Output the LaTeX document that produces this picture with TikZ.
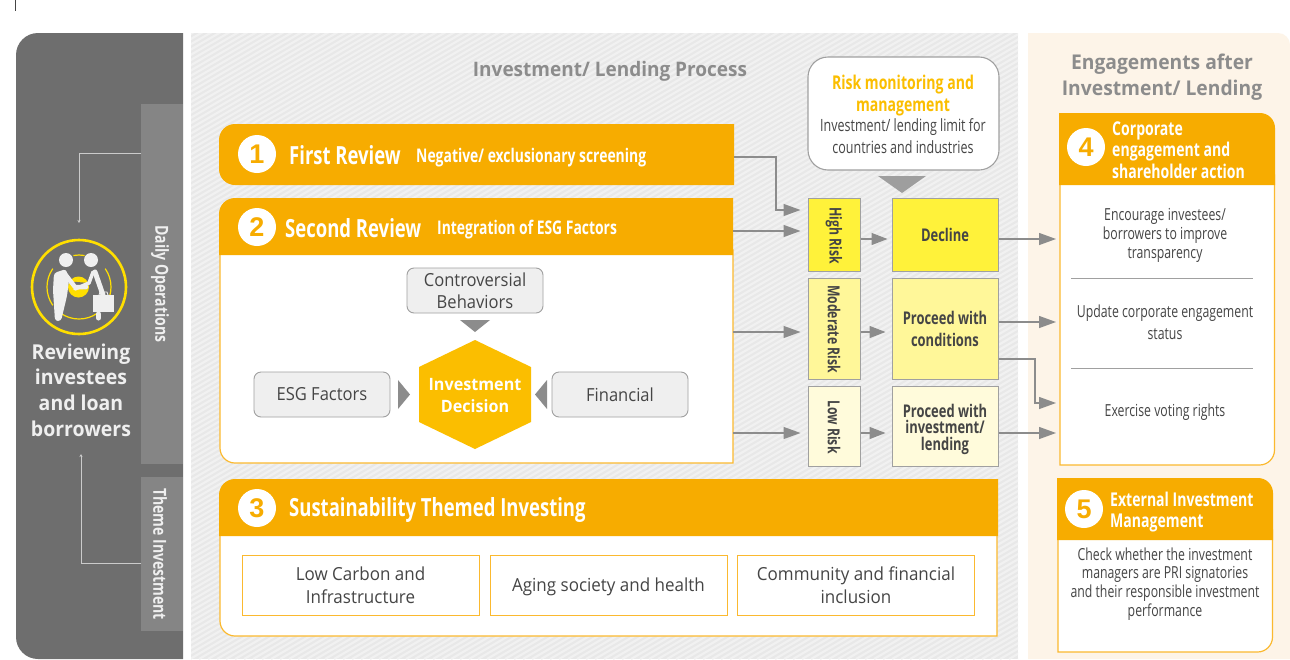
\documentclass[tikz,border=0pt]{standalone}
\usepackage{fontspec}
\usepackage{tikz}
\usetikzlibrary{arrows.meta,calc}
\setmainfont{Open Sans}
\newfontfamily\cnd[FakeStretch=0.74]{Open Sans}
\newfontfamily\tabf[FakeStretch=0.78]{Open Sans}
\newfontfamily\reg[FakeStretch=0.92]{Open Sans}
\newfontfamily\regb[FakeStretch=0.945]{Open Sans}
\newfontfamily\semi[FakeStretch=0.95]{Open Sans}
\newfontfamily\fig{Liberation Sans}
\newcommand{\sz}[2]{\fontsize{#1}{#2}\selectfont}
\definecolor{orng}{HTML}{F7AC00}
\definecolor{orngl}{HTML}{FBB92F}
\definecolor{hexo}{HTML}{FBBE00}
\definecolor{dark}{HTML}{6E6E6E}
\definecolor{tabg}{HTML}{858585}
\definecolor{ink}{HTML}{454545}
\definecolor{head}{HTML}{8C8C8C}
\definecolor{arr}{HTML}{8C8C8C}
\definecolor{edge}{HTML}{A0A0A0}
\definecolor{cream}{HTML}{FDF4E8}
\definecolor{ylw}{HTML}{FFDF00}
\definecolor{rhi}{HTML}{FFF23A}
\definecolor{rmd}{HTML}{FFF799}
\definecolor{rlo}{HTML}{FFFBDB}
\definecolor{softw}{HTML}{EFEFEF}
\definecolor{hatcha}{HTML}{E8E8E8}
\definecolor{hatchb}{HTML}{F1F1F1}
\tikzset{
  x=1pt,y=-1pt,
  flow/.style={draw=arr,line width=1.3pt,-{Triangle[length=17pt,width=12pt,fill=arr]}},
  thin link/.style={draw=softw!85!black,line width=.9pt,-{Stealth[length=3pt,width=3pt]}},
  anchorbox/.style={inner sep=0pt,outer sep=0pt},
  num/.style={circle,fill=white,text=orng,minimum size=38pt,inner sep=0pt,font=\fig\bfseries\sz{27}{27}},
  title/.style={text=head,align=center,font=\semi\bfseries\sz{20}{26}},
  bighead/.style={text=white,anchor=base west,inner sep=0pt,font=\cnd\bfseries\sz{25}{25}},
  subhead/.style={text=white,anchor=base west,inner sep=0pt,font=\cnd\bfseries\sz{18.8}{20}},
  headblock/.style={text=white,anchor=west,align=left,inner sep=0pt,font=\cnd\bfseries\sz{19}{21.3}},
  bodytext/.style={text=ink,align=center,inner sep=0pt,font=\cnd\sz{16.6}{19}},
  softbox/.style={draw=edge,fill=softw,line width=.9pt,rounded corners=7pt,text=ink,align=center,inner sep=0pt,minimum width=136pt,minimum height=45pt,font=\reg\sz{18}{22}},
  themebox/.style={draw=orngl,fill=white,line width=1pt,text=ink,align=center,inner sep=0pt,minimum width=237pt,minimum height=60pt,font=\regb\sz{18}{23}},
  riskbox/.style={draw=edge,line width=1pt,text=ink,inner sep=0pt,align=center,font=\cnd\bfseries\sz{17.5}{20}},
  risklabel/.style={text=ink,rotate=-90,inner sep=0pt,font=\cnd\bfseries\sz{16.5}{17}},
  tabtext/.style={rotate=-90,text=softw,inner sep=0pt,font=\tabf\bfseries\sz{18}{18}},
  pointer/.style={fill=arr,draw=none},
  outline/.style={draw=orngl,fill=white,line width=1.2pt},
  body person/.style={draw=softw,line width=5pt,line cap=round,line join=round},
}
\begin{document}
\begin{tikzpicture}
\useasboundingbox (0,0) rectangle (1290,659);
\fill[white] (0,0) rectangle (1290,659);
\draw[ink,line width=.8pt] (15.5,0) -- (15.5,11);
% panels
\fill[dark] (183,33) -- (38,33) arc[start angle=270,end angle=180,radius=22] -- (16,637) arc[start angle=180,end angle=90,radius=22] -- (183,659) -- cycle;
\fill[cream] (1028,33) -- (1278,33) arc[start angle=270,end angle=360,radius=12] -- (1290,659) -- (1028,659) -- cycle;
\begin{scope}
\clip (191,33) rectangle (1018,659);
\fill[hatcha] (191,33) rectangle (1018,659);
\foreach \k in {-890,-881,...,1020}{
  \draw[hatchb,line width=2.2pt] (\k,659) -- ++(1200,-700);
}
\end{scope}
% left tabs
\fill[tabg] (141,104) rectangle (183,464);
\fill[tabg] (141,477) rectangle (183,631);
\node[tabtext] (daily) at (160,284) {Daily Operations};
\node[tabtext] (theme) at (160,554) {Theme Investment};
% icon
\node[circle,draw=ylw,line width=2.6pt,minimum size=94pt,inner sep=0pt] (icon) at (79,287) {};
\begin{scope}[draw=ylw,line width=1.2pt]
\draw ([shift={(260:32)}]79,287) arc[start angle=260,end angle=280,radius=32];
\draw ([shift={(145:32)}]79,287) arc[start angle=145,end angle=215,radius=32];
\draw ([shift={(-35:32)}]79,287) arc[start angle=-35,end angle=35,radius=32];
\draw ([shift={(55:32)}]79,287) arc[start angle=55,end angle=125,radius=32];
\end{scope}
\fill[ylw] (78.5,287) circle[radius=10.5];
\fill[softw] (66,260) circle[radius=7] (91,260) circle[radius=7];
\fill[softw,rounded corners=3pt] (54,273) -- (66,269) -- (69,280) -- (67,296) -- (61,321) -- (55,321) -- (53,290) -- cycle;
\draw[dark,line width=6.5pt,line join=round] (74,285) -- (86,286);
\draw[body person,line width=4.5pt] (65,274) -- (75,287) -- (86,287);
\draw[body person,line width=3.5pt] (93,272) -- (89,283) -- (75,289);
\draw[body person,line width=5pt] (95,272) -- (103,295);
\draw[body person,line width=5pt] (98.5,314) -- (98.5,318);
\fill[softw] (93,295) rectangle (114,312);
\draw[softw,line width=.8pt] (99,295) -- (100,292) -- (107,292) -- (108,295);
\node[text=softw,align=center,inner sep=0pt,font=\semi\bfseries\sz{20.5}{25.7}] (review) at (81,390) {Reviewing\\investees\\and loan\\borrowers};
\coordinate (revfoot) at (81,454);
\draw[thin link] (daily.center |- 0,153) ++(-19,0) -- (79,153) -- (icon.north |- 0,223);
\draw[thin link] (theme.center |- 0,563) ++(-19,0) -- (81,563) -- (revfoot);
% section title
\node[title] (proc) at (610,71) {Investment/ Lending Process};
% box 1
\path[fill=orng] (734,124) -- (235,124) arc[start angle=270,end angle=180,radius=16] -- (219,169) arc[start angle=180,end angle=90,radius=16] -- (734,185) -- cycle;
\node[anchorbox,minimum width=515pt,minimum height=61pt] (first) at (476.5,154.5) {};
\node[num] (n1) at (257,154) {1};
\node[bighead] (t1) at (289,164) {First Review};
\node[subhead] (s1) at (416,162) {Negative/ exclusionary screening};
% box 2
\path[outline] (733,250) -- (733,463) -- (235,463) arc[start angle=90,end angle=180,radius=15] -- (220,250) -- cycle;
\path[fill=orng] (733,198) -- (235,198) arc[start angle=270,end angle=180,radius=16] -- (219,255) -- (733,255) -- cycle;
\node[anchorbox,minimum width=514pt,minimum height=265pt] (second) at (476,330.5) {};
\node[num] (n2) at (257,227) {2};
\node[bighead] (t2) at (285,237) {Second Review};
\node[subhead] (s2) at (437,234) {Integration of ESG Factors};
\node[softbox] (contro) at (475,290.5) {Controversial\\Behaviors};
\node[softbox] (esg) at (322,394.5) {ESG Factors};
\node[softbox] (fin) at (620,394.5) {Financial};
\path[fill=hexo] (475,340) -- (531,367) -- (531,422) -- (475,449) -- (419,422) -- (419,367) -- cycle;
\node[text=white,align=center,inner sep=0pt,font=\semi\bfseries\sz{17}{22}] (dec) at (475,396) {Investment\\Decision};
\path[pointer] (460,320) -- (490,320) -- (475,332) -- cycle;
\path[pointer] (398,380) -- (398,409) -- (410,394.5) -- cycle;
\path[pointer] (547,380) -- (547,409) -- (535,394.5) -- cycle;
% box 3
\path[outline] (997,530) -- (997,636) -- (235,636) arc[start angle=90,end angle=180,radius=15] -- (220,530) -- cycle;
\path[fill=orng] (998,479) -- (235,479) arc[start angle=270,end angle=180,radius=16] -- (219,536) -- (998,536) -- cycle;
\node[num] (n3) at (257,508) {3};
\node[bighead] (t3) at (289,516) {Sustainability Themed Investing};
\node[themebox] (th1) at (360.5,585) {Low Carbon and\\Infrastructure};
\node[themebox,text depth=5pt,text height=17pt] (th2) at (608.5,585) {Aging society and health};
\node[themebox] (th3) at (856,585) {Community and financial\\inclusion};
% risk monitoring
\node[draw=edge,fill=white,line width=1.1pt,rounded corners=20pt,minimum width=191pt,minimum height=113pt,inner sep=0pt] (mon) at (903.5,113.5) {};
\node[text=hexo,align=center,inner sep=0pt,font=\cnd\bfseries\sz{19}{22}] (mont) at (903,96) {Risk monitoring and\\management};
\node[bodytext,font=\cnd\sz{16.9}{22}] (monb) at (903,136) {Investment/ lending limit for\\countries and industries};
\path[fill=black!38] (878,176) -- (926,176) -- (902,193) -- cycle;
% risk levels
\node[riskbox,fill=rhi,minimum width=52pt,minimum height=73pt] (hi) at (834,234.5) {};
\node[riskbox,fill=rmd,minimum width=52pt,minimum height=101pt] (mo) at (834,328.5) {};
\node[riskbox,fill=rlo,minimum width=52pt,minimum height=80pt] (lo) at (834,426) {};
\node[risklabel] (hit) at (834,235.5) {High Risk};
\node[risklabel] (mot) at (834,329) {Moderate Risk};
\node[risklabel] (lot) at (834,427) {Low Risk};
\node[riskbox,fill=rhi,minimum width=106pt,minimum height=73pt] (de) at (945,234.5) {};
\node[riskbox,fill=rmd,minimum width=106pt,minimum height=101pt] (pc) at (945,328.5) {};
\node[riskbox,fill=rlo,minimum width=106pt,minimum height=80pt] (pi) at (945,426) {};
\node[text=ink,inner sep=0pt,font=\cnd\bfseries\sz{17.5}{22}] (det) at (945,234.5) {Decline};
\node[text=ink,align=center,inner sep=0pt,font=\cnd\bfseries\sz{17.5}{22}] (pct) at (945,328.5) {Proceed with\\conditions};
\node[text=ink,align=center,inner sep=0pt,font=\cnd\bfseries\sz{17.5}{16.5}] (pit) at (945,429) {Proceed with\\investment/\\lending};
% engagements
\node[title,font=\semi\bfseries\sz{20.3}{26}] (eng) at (1162,77.5) {Engagements after\\Investment/ Lending};
\path[outline] (1274.5,175) -- (1274.5,450) arc[start angle=0,end angle=90,radius=15] -- (1060,465) -- (1060,175) -- cycle;
\path[fill=orng] (1059,113) -- (1260,113) arc[start angle=270,end angle=360,radius=15] -- (1275,185) -- (1059,185) -- cycle;
\node[anchorbox,minimum width=216pt,minimum height=352pt] (fourth) at (1167,289) {};
\node[num] (n4) at (1086,147) {4};
\node[headblock] (t4) at (1112,150) {Corporate\\engagement and\\shareholder action};
\node[bodytext] (e1) at (1165,235) {Encourage investees/\\borrowers to improve\\transparency};
\node[bodytext,font=\cnd\sz{16.6}{22}] (e2) at (1165,322) {Update corporate engagement\\status};
\node[bodytext] (e3) at (1165,412) {Exercise voting rights};
\draw[edge,line width=1pt] (1071,278) -- (1253,278);
\draw[edge,line width=1pt] (1071,368) -- (1253,368);
\path[outline] (1272.5,530) -- (1272.5,637) arc[start angle=0,end angle=90,radius=15] -- (1058,652) -- (1058,530) -- cycle;
\path[fill=orng] (1057,478) -- (1258,478) arc[start angle=270,end angle=360,radius=15] -- (1273,540) -- (1057,540) -- cycle;
\node[num] (n5) at (1084,509) {5};
\node[headblock] (t5) at (1110,512) {External Investment\\Management};
\node[bodytext,font=\cnd\sz{16.6}{18.7}] (e5) at (1165,584) {Check whether the investment\\managers are PRI signatories\\and their responsible investment\\performance};
% connectors
\draw[flow] (first.east |- 0,157) -- (776,157) -- (776,210) -- ($(hi.west |- 0,210)+(-7,0)$);
\draw[flow] (second.east |- 0,231) -- ($(hi.west |- 0,231)+(-7,0)$);
\draw[flow] (second.east |- 0,332) -- ($(mo.west |- 0,332)+(-7,0)$);
\draw[flow] (second.east |- 0,433) -- ($(lo.west |- 0,433)+(-7,0)$);
\draw[flow,-{Triangle[length=16pt,width=12pt,fill=arr]}] (hi.east |- 0,239) -- ($(de.west |- 0,239)+(-4,0)$);
\draw[flow,-{Triangle[length=16pt,width=12pt,fill=arr]}] (mo.east |- 0,332) -- ($(pc.west |- 0,332)+(-6,0)$);
\draw[flow,-{Triangle[length=16pt,width=12pt,fill=arr]}] (lo.east |- 0,433) -- ($(pi.west |- 0,433)+(-6,0)$);
\draw[flow] (de.east |- 0,239) -- ($(fourth.west |- 0,239)+(-3,0)$);
\draw[flow] (pc.east |- 0,322) -- ($(fourth.west |- 0,322)+(-3,0)$);
\draw[flow] (pc.east |- 0,359) -- (1035,359) -- (1035,403) -- ($(fourth.west |- 0,403)+(-3,0)$);
\draw[flow] (pi.east |- 0,433) -- ($(fourth.west |- 0,433)+(-3,0)$);
\end{tikzpicture}
\end{document}
